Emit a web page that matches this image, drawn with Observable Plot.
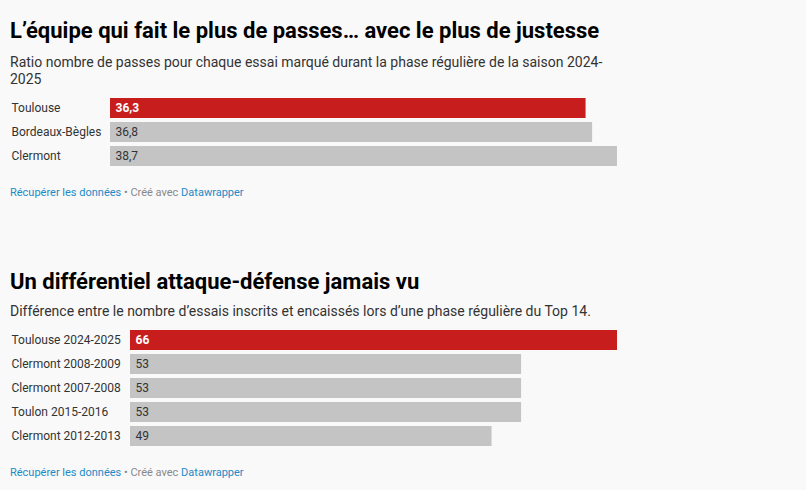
<!DOCTYPE html>
<html><head><meta charset="utf-8">
<script src="https://cdn.jsdelivr.net/npm/d3@7"></script>
<script src="https://cdn.jsdelivr.net/npm/@observablehq/plot@0.6"></script>
<style>
html,body{margin:0;padding:0;background:#f9f9f9;width:806px;height:490px;overflow:hidden;font-family:Roboto,sans-serif;}
.blk{position:absolute;left:10px;width:607px;}
.title{font-size:22px;font-weight:700;line-height:26px;color:#000;white-space:nowrap;}
.sub{font-size:14px;line-height:17px;color:#333;}
.foot{font-size:11px;line-height:14px;color:#888;white-space:nowrap;}
.foot a{color:#1d8ac6;text-decoration:none;}
</style></head><body>
<div class="blk title" style="top:18px">L’équipe qui fait le plus de passes… avec le plus de justesse</div>
<div class="blk sub" style="top:54px">Ratio nombre de passes pour chaque essai marqué durant la phase régulière de la saison 2024-<br>2025</div>
<div class="blk" id="c1" style="top:96px"></div>
<div class="blk foot" style="top:186px"><a>Récupérer les données</a> • Créé avec <a>Datawrapper</a></div>

<div class="blk title" style="top:269px">Un différentiel attaque-défense jamais vu</div>
<div class="blk sub" style="top:303px">Différence entre le nombre d’essais inscrits et encaissés lors d’une phase régulière du Top 14.</div>
<div class="blk" id="c2" style="top:328px"></div>
<div class="blk foot" style="top:466px"><a>Récupérer les données</a> • Créé avec <a>Datawrapper</a></div>

<script>
const teams1 = ["Toulouse", "Bordeaux-Bègles", "Clermont"];
const ratios1 = [36.3, 36.8, 38.7];
const highlight1 = [true, false, false];

const teams2 = ["Toulouse 2024-2025", "Clermont 2008-2009", "Clermont 2007-2008", "Toulon 2015-2016", "Clermont 2012-2013"];
const diffs2 = [66, 53, 53, 53, 49];
const highlight2 = [true, false, false, false, false];

const RED = "#c71e1d", GRAY = "#c4c4c4";
const fmt = v => String(v).replace(".", ",");

function chart(names, values, hl, marginLeft) {
  const data = names.map((n, i) => ({name: n, value: values[i], hl: hl[i]}));
  const step = 24;
  return Plot.plot({
    width: 607,
    height: names.length * step,
    marginLeft, marginRight: 0, marginTop: 0, marginBottom: 0,
    style: {fontFamily: "Roboto, sans-serif", background: "transparent", overflow: "visible"},
    x: {domain: [0, d3.max(values)], axis: null},
    y: {domain: names, axis: null, paddingInner: 0.18, paddingOuter: 0.09},
    marks: [
      Plot.barX(data, {x: "value", y: "name", fill: d => d.hl ? RED : GRAY}),
      Plot.text(data, {y: "name", text: "name", frameAnchor: "left", textAnchor: "start", dx: -marginLeft + 1, fontSize: 12, fill: "#333"}),
      Plot.text(data.filter(d => !d.hl), {x: 0, y: "name", text: d => fmt(d.value), textAnchor: "start", dx: 5, fontSize: 12, fill: "#333"}),
      Plot.text(data.filter(d => d.hl), {x: 0, y: "name", text: d => fmt(d.value), textAnchor: "start", dx: 5, fontSize: 12, fill: "#fff", fontWeight: 700})
    ]
  });
}
document.getElementById("c1").append(chart(teams1, ratios1, highlight1, 100));
document.getElementById("c2").append(chart(teams2, diffs2, highlight2, 120));
</script>
</body></html>
